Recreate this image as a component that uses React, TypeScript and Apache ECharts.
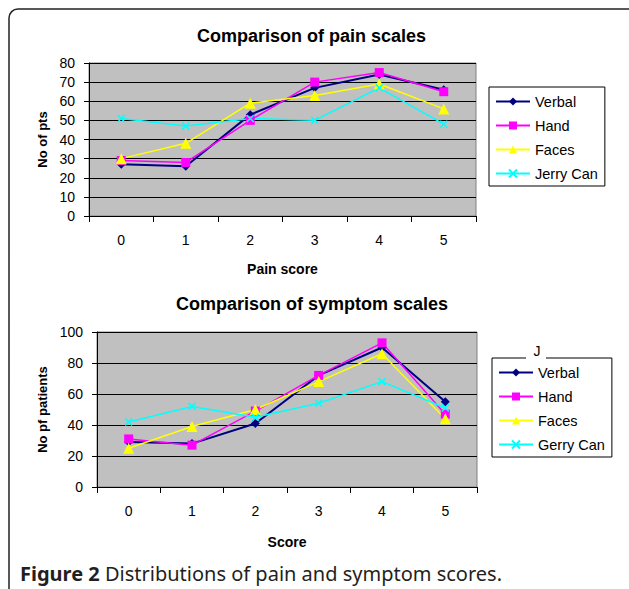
import React, { useEffect, useRef } from "react";
import * as echarts from "echarts";

const scoreCategories = ["0", "1", "2", "3", "4", "5"];

const painVerbal = [27, 26, 53, 67, 74, 66];
const painHand = [29, 28, 50, 70, 75, 65];
const painFaces = [30, 38, 59, 63, 69, 56];
const painJerryCan = [51, 47, 51, 50, 67, 48];

const symVerbal = [29, 28, 41, 72, 90, 55];
const symHand = [31, 27, 49, 72, 93, 47];
const symFaces = [25, 39, 50, 68, 86, 44];
const symGerryCan = [42, 52, 45, 54, 68, 51];

const painLegend = ["Verbal", "Hand", "Faces", "Jerry Can"];
const symLegend = ["Verbal", "Hand", "Faces", "Gerry Can"];

const FONT = "Liberation Sans";
const CAPTION_FONT = "Noto Sans";
const CROSS = "path://M0,0L10,10M10,0L0,10";

const styles: Record<string, any> = {
  Verbal: { color: "#000080", symbol: "diamond", size: 9, width: 2 },
  Hand: { color: "#FF00FF", symbol: "rect", size: 9, width: 1.5 },
  Faces: { color: "#FFFF00", symbol: "triangle", size: 11, width: 1.5 },
  "Jerry Can": { color: "#00FFFF", symbol: CROSS, size: 7, width: 1.5 },
  "Gerry Can": { color: "#00FFFF", symbol: CROSS, size: 7, width: 1.5 },
};

function mkSeries(name: string, data: number[], idx: number) {
  const s = styles[name];
  return {
    type: "line",
    name,
    data,
    xAxisIndex: idx,
    yAxisIndex: idx,
    symbol: s.symbol,
    symbolSize: s.size,
    lineStyle: { color: s.color, width: s.width },
    itemStyle: {
      color: s.color,
      borderColor: s.color,
      borderWidth: s.symbol === CROSS ? 1.5 : 0,
    },
    emphasis: { disabled: true },
  };
}

function xAxis(idx: number, name: string, gap: number) {
  return {
    type: "category",
    gridIndex: idx,
    data: scoreCategories,
    boundaryGap: true,
    name,
    nameLocation: "middle",
    nameGap: gap,
    nameTextStyle: { fontFamily: FONT, fontSize: 14, fontWeight: "bold", color: "#000" },
    axisLine: { show: true, lineStyle: { color: "#000", width: 1 } },
    axisTick: { show: true, length: 6, lineStyle: { color: "#000" } },
    axisLabel: { margin: 17, fontFamily: FONT, fontSize: 14, color: "#000" },
    splitLine: { show: false },
  };
}

function yAxis(idx: number, name: string, max: number, interval: number, gap: number) {
  return {
    type: "value",
    gridIndex: idx,
    min: 0,
    max,
    interval,
    name,
    nameLocation: "middle",
    nameGap: gap,
    nameTextStyle: { fontFamily: FONT, fontSize: 13, fontWeight: "bold", color: "#000" },
    axisLine: { show: true, lineStyle: { color: "#000", width: 1 } },
    axisTick: { show: true, length: 5, lineStyle: { color: "#000" } },
    axisLabel: { margin: 14, fontFamily: FONT, fontSize: 14, color: "#000" },
    splitLine: { show: true, lineStyle: { color: "#000", width: 1 } },
  };
}

function legend(data: string[], left: number, top: number) {
  return {
    data,
    orient: "vertical",
    left,
    top,
    padding: [7, 7, 5, 6],
    itemGap: 9,
    itemWidth: 34,
    itemHeight: 10,
    borderColor: "#000",
    borderWidth: 1,
    backgroundColor: "#fff",
    selectedMode: false,
    textStyle: { fontFamily: FONT, fontSize: 14.5, color: "#000" },
  };
}

export default function App() {
  const ref = useRef<HTMLDivElement>(null);
  useEffect(() => {
    if (!ref.current) return;
    const chart = echarts.init(ref.current, undefined, { renderer: "svg" });
    chart.setOption({
      animation: false,
      backgroundColor: "#fff",
      title: [
        {
          text: "Comparison of pain scales",
          left: 192,
          top: 22,
          textStyle: { fontFamily: FONT, fontSize: 18, fontWeight: "bold", color: "#000" },
        },
        {
          text: "Comparison of symptom scales",
          left: 171,
          top: 290,
          textStyle: { fontFamily: FONT, fontSize: 18, fontWeight: "bold", color: "#000" },
        },
      ],
      grid: [
        {
          left: 89,
          top: 63,
          width: 387,
          height: 153,
          show: true,
          backgroundColor: "#C0C0C0",
          borderColor: "#808080",
          borderWidth: 1,
        },
        {
          left: 97,
          top: 332,
          width: 380,
          height: 155,
          show: true,
          backgroundColor: "#C0C0C0",
          borderColor: "#808080",
          borderWidth: 1,
        },
      ],
      xAxis: [xAxis(0, "Pain score", 46), xAxis(1, "Score", 48)],
      yAxis: [
        yAxis(0, "No of pts", 80, 10, 38),
        yAxis(1, "No pf patients", 100, 20, 47),
      ],
      legend: [legend(painLegend, 489, 87), legend(symLegend, 492, 358)],
      series: [
        mkSeries("Verbal", painVerbal, 0),
        mkSeries("Hand", painHand, 0),
        mkSeries("Faces", painFaces, 0),
        mkSeries("Jerry Can", painJerryCan, 0),
        mkSeries("Verbal", symVerbal, 1),
        mkSeries("Hand", symHand, 1),
        mkSeries("Faces", symFaces, 1),
        mkSeries("Gerry Can", symGerryCan, 1),
      ],
      graphic: [
        {
          type: "rect",
          z: 100,
          silent: true,
          shape: { x: 9, y: 9, width: 640, height: 600, r: 9 },
          style: { fill: "none", stroke: "#222", lineWidth: 1.5 },
        },
        {
          type: "rect",
          z: 100,
          silent: true,
          shape: { x: 526, y: 354, width: 20, height: 8 },
          style: { fill: "#fff" },
        },
        {
          type: "text",
          z: 101,
          silent: true,
          x: 537,
          y: 351,
          style: {
            text: "J",
            fontFamily: FONT,
            fontSize: 14,
            fill: "#000",
            align: "center",
            verticalAlign: "middle",
          },
        },
        {
          type: "text",
          z: 101,
          silent: true,
          x: 20,
          y: 573,
          style: {
            text: "{b|Figure 2} Distributions of pain and symptom scores.",
            fontFamily: CAPTION_FONT,
            fontSize: 20,
            fill: "#231f20",
            verticalAlign: "middle",
            rich: {
              b: {
                fontFamily: CAPTION_FONT,
                fontSize: 20,
                fontWeight: "bold",
                fill: "#231f20",
              },
            },
          },
        },
      ],
    });
    return () => chart.dispose();
  }, []);
  return (
    <div
      ref={ref}
      style={{ position: "absolute", left: 0, top: 0, width: 629, height: 589, background: "#fff" }}
    />
  );
}
